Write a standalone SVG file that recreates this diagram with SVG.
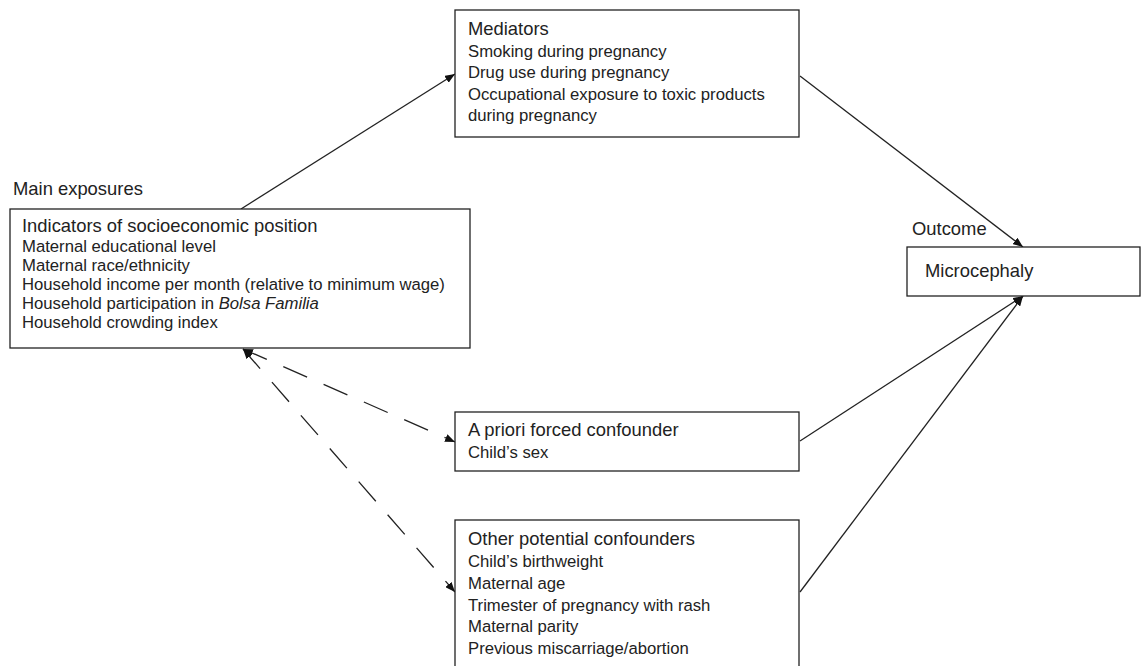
<svg xmlns="http://www.w3.org/2000/svg" width="1145" height="666" viewBox="0 0 1145 666">
<style>
.box{fill:#fff;stroke:#222;stroke-width:1.3}
.t{font-family:"Liberation Sans",Arial,sans-serif;fill:#222}
.h{font-size:18.4px}
.i{font-size:16.7px}
.c{fill:none;stroke:#222;stroke-width:1.3}
.d{stroke-dasharray:26 18}
</style>
<defs>
<marker id="ah" viewBox="0 0 10 8" refX="10" refY="4" markerWidth="10" markerHeight="8" markerUnits="userSpaceOnUse" orient="auto-start-reverse">
<path d="M0,0 L10,4 L0,8 z" fill="#111"/>
</marker>
</defs>
<rect width="1145" height="666" fill="#fff"/>
<g id="connectors">
<line class="c" x1="241" y1="209" x2="455" y2="74" marker-end="url(#ah)"/>
<line class="c" x1="800" y1="76" x2="1023" y2="247" marker-end="url(#ah)"/>
<line class="c" x1="800" y1="441" x2="1023" y2="296" marker-end="url(#ah)"/>
<line class="c" x1="800" y1="592" x2="1023" y2="296" marker-end="url(#ah)"/>
<line class="c d" x1="243" y1="349" x2="455" y2="442" marker-start="url(#ah)" marker-end="url(#ah)"/>
<line class="c d" x1="243" y1="349" x2="455" y2="592" marker-start="url(#ah)" marker-end="url(#ah)"/>
</g>
<g id="exposures">
<text class="t h" x="13" y="195">Main exposures</text>
<rect class="box" x="10" y="209" width="460" height="139"/>
<text class="t h" x="22" y="232">Indicators of socioeconomic position</text>
<text class="t i" x="22" y="252">Maternal educational level</text>
<text class="t i" x="22" y="271">Maternal race/ethnicity</text>
<text class="t i" x="22" y="290">Household income per month (relative to minimum wage)</text>
<text class="t i" x="22" y="309">Household participation in <tspan font-style="italic">Bolsa Familia</tspan></text>
<text class="t i" x="22" y="328">Household crowding index</text>
</g>
<g id="mediators">
<rect class="box" x="455" y="10" width="344" height="127"/>
<text class="t h" x="468" y="35">Mediators</text>
<text class="t i" x="468" y="57">Smoking during pregnancy</text>
<text class="t i" x="468" y="78">Drug use during pregnancy</text>
<text class="t i" x="468" y="100">Occupational exposure to toxic products</text>
<text class="t i" x="468" y="121">during pregnancy</text>
</g>
<g id="outcome">
<text class="t h" x="912" y="235">Outcome</text>
<rect class="box" x="907" y="247" width="233" height="49"/>
<text class="t h" x="925" y="277">Microcephaly</text>
</g>
<g id="forced">
<rect class="box" x="455" y="412" width="344" height="59"/>
<text class="t h" x="468" y="436">A priori forced confounder</text>
<text class="t i" x="468" y="458">Child’s sex</text>
</g>
<g id="other">
<rect class="box" x="455" y="520" width="344" height="160"/>
<text class="t h" x="468" y="545">Other potential confounders</text>
<text class="t i" x="468" y="567">Child’s birthweight</text>
<text class="t i" x="468" y="589">Maternal age</text>
<text class="t i" x="468" y="611">Trimester of pregnancy with rash</text>
<text class="t i" x="468" y="632">Maternal parity</text>
<text class="t i" x="468" y="654">Previous miscarriage/abortion</text>
</g>
</svg>
